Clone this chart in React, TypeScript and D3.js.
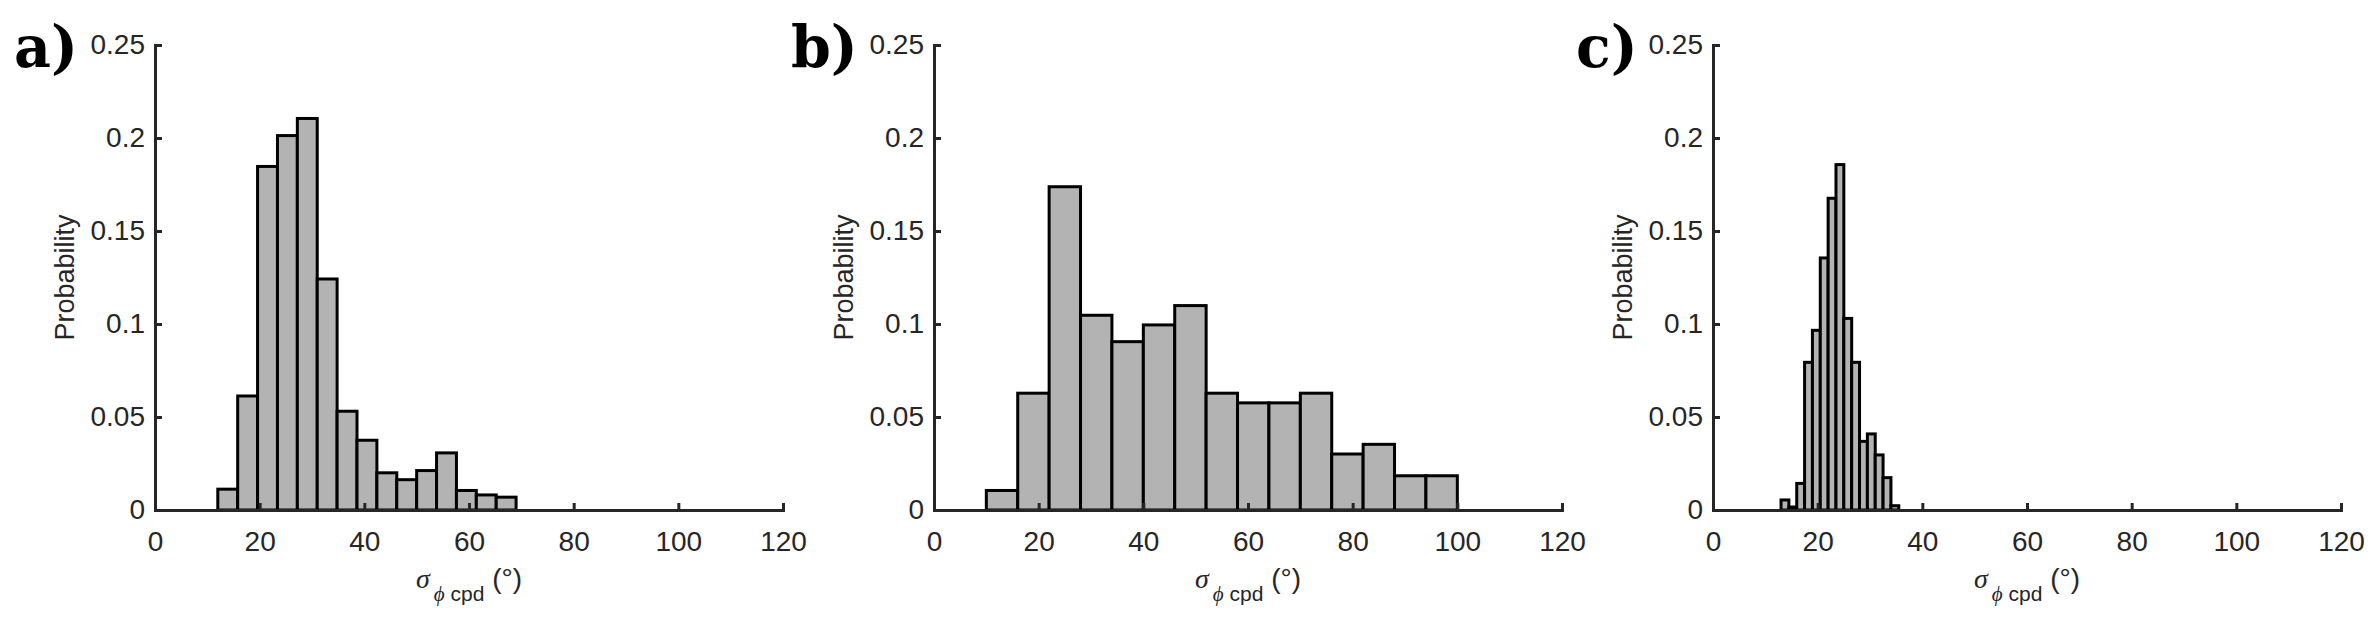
import React, { useEffect, useRef } from "react";
import * as d3 from "d3";

// bin edges and probabilities
const edgesA = [12, 15.8, 19.6, 23.4, 27.2, 31, 34.8, 38.6, 42.4, 46.2, 50, 53.8, 57.6, 61.4, 65.2, 69];
const probA = [0.0112, 0.0613, 0.1847, 0.2013, 0.2105, 0.1242, 0.0531, 0.0375, 0.02, 0.0163, 0.0212, 0.0307, 0.0105, 0.0081, 0.0069];

const edgesB = [10, 16, 22, 28, 34, 40, 46, 52, 58, 64, 70, 76, 82, 88, 94, 100];
const probB = [0.0105, 0.0628, 0.1738, 0.1047, 0.0905, 0.0995, 0.1099, 0.0628, 0.0576, 0.0576, 0.0628, 0.0301, 0.0353, 0.0184, 0.0184];

const edgesC = [13, 14.5, 16, 17.5, 19, 20.5, 22, 23.5, 25, 26.5, 28, 29.5, 31, 32.5, 34, 35.5];
const probC = [0.0054, 0.0016, 0.0143, 0.0794, 0.0966, 0.1355, 0.1676, 0.1857, 0.103, 0.0794, 0.0369, 0.0409, 0.0296, 0.0174, 0.0023];

const xTicks = [0, 20, 40, 60, 80, 100, 120];
const yTicks = [0, 0.05, 0.1, 0.15, 0.2, 0.25];
const yTickLabels = ["0", "0.05", "0.1", "0.15", "0.2", "0.25"];
const panelLabels = ["a)", "b)", "c)"];

const W = 2378,
  H = 623;
const plotTop = 45,
  plotBottom = 510,
  plotWidth = 628;
const axisColor = "#262626";
const tickFont = "'Liberation Sans', Arial, sans-serif";

const panels = [
  { label: panelLabels[0], left: 155, labelX: 14, edges: edgesA, probs: probA },
  { label: panelLabels[1], left: 934, labelX: 791, edges: edgesB, probs: probB },
  { label: panelLabels[2], left: 1713, labelX: 1576, edges: edgesC, probs: probC },
];

export default function App() {
  const ref = useRef<SVGSVGElement>(null);

  useEffect(() => {
    const svg = d3.select(ref.current);
    svg.selectAll("*").remove();

    svg.append("rect").attr("width", W).attr("height", H).attr("fill", "#ffffff");

    panels.forEach((p) => {
      const x = d3.scaleLinear().domain([0, 120]).range([p.left, p.left + plotWidth]);
      const y = d3.scaleLinear().domain([0, 0.25]).range([plotBottom, plotTop]);

      const g = svg.append("g");

      // histogram bars
      const bins = p.probs.map((v, i) => ({ x0: p.edges[i], x1: p.edges[i + 1], v }));
      g.append("g")
        .selectAll("rect")
        .data(bins)
        .enter()
        .append("rect")
        .attr("x", (d) => x(d.x0))
        .attr("y", (d) => y(d.v))
        .attr("width", (d) => x(d.x1) - x(d.x0))
        .attr("height", (d) => y(0) - y(d.v))
        .attr("fill", "#b3b3b3")
        .attr("stroke", "#000000")
        .attr("stroke-width", 3);

      // x axis (inward ticks, MATLAB style)
      const xAxis = g
        .append("g")
        .attr("transform", `translate(0,${plotBottom})`)
        .call(
          d3
            .axisBottom(x)
            .tickValues(xTicks)
            .tickSize(-7)
            .tickSizeOuter(0)
            .tickPadding(21)
            .tickFormat((d) => String(d))
        );

      // y axis
      const yAxis = g
        .append("g")
        .attr("transform", `translate(${p.left},0)`)
        .call(
          d3
            .axisLeft(y)
            .tickValues(yTicks)
            .tickSize(-7)
            .tickSizeOuter(0)
            .tickPadding(10)
            .tickFormat((d, i) => yTickLabels[i])
        );

      [xAxis, yAxis].forEach((ax) => {
        ax.select(".domain").attr("stroke", axisColor).attr("stroke-width", 3).attr("stroke-linecap", "square");
        ax.selectAll(".tick line").attr("stroke", axisColor).attr("stroke-width", 3);
        ax.selectAll(".tick text")
          .attr("fill", axisColor)
          .style("font-family", tickFont)
          .style("font-size", "28px");
      });

      // y label
      g.append("text")
        .attr("transform", `translate(${p.left - 81},${(plotTop + plotBottom) / 2}) rotate(-90)`)
        .attr("text-anchor", "middle")
        .attr("fill", axisColor)
        .style("font-family", tickFont)
        .style("font-size", "27px")
        .text("Probability");

      // x label: sigma_{phi cpd} (°)
      const xl = g
        .append("text")
        .attr("x", p.left + plotWidth / 2)
        .attr("y", 588)
        .attr("text-anchor", "middle")
        .attr("fill", axisColor)
        .style("font-family", tickFont)
        .style("font-size", "28px");
      xl.append("tspan")
        .style("font-family", "'Liberation Serif', serif")
        .style("font-style", "italic")
        .text("σ");
      xl.append("tspan")
        .attr("dx", 4)
        .attr("dy", 13)
        .style("font-family", "'Liberation Serif', serif")
        .style("font-style", "italic")
        .style("font-size", "21px")
        .text("ϕ");
      xl.append("tspan").style("font-size", "21px").text(" cpd");
      xl.append("tspan").attr("dy", -13).text(" (°)");

      // panel label
      g.append("text")
        .attr("x", p.labelX)
        .attr("y", 67)
        .attr("fill", "#000000")
        .style("font-family", "'DejaVu Serif', serif")
        .style("font-weight", "bold")
        .style("font-size", "57px")
        .text(p.label);
    });
  }, []);

  return (
    <svg
      ref={ref}
      width={W}
      height={H}
      style={{ position: "absolute", left: 0, top: 0, display: "block" }}
    />
  );
}
